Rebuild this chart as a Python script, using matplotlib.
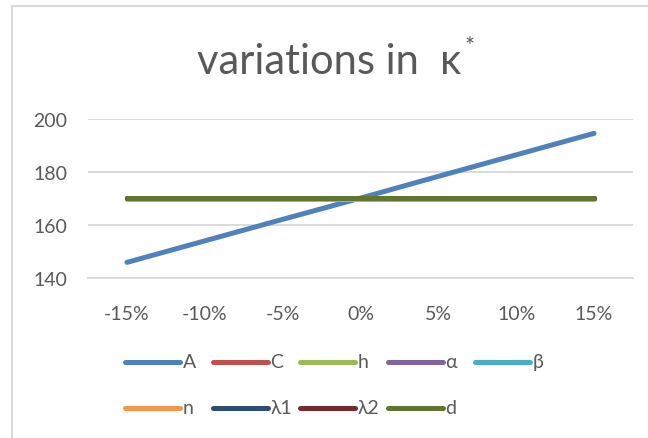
import matplotlib
matplotlib.use('Agg')
import matplotlib.pyplot as plt
from matplotlib.patches import Rectangle
from matplotlib.lines import Line2D

# data
changes = ['-15%', '-10%', '-5%', '0%', '5%', '10%', '15%']
A = [146.0, 154.1, 162.2, 170.2, 178.4, 186.5, 194.6]
C = [170.2] * 7
h = [170.2] * 7
alpha = [170.2] * 7
beta = [170.2] * 7
n = [169.9] * 7
lam1 = [170.2] * 7
lam2 = [170.2] * 7
d = [170.2] * 7

series = [('A', A, '#4F81BD'), ('C', C, '#C0504D'), ('h', h, '#9BBB59'),
          ('α', alpha, '#8064A2'), ('β', beta, '#4BACC6'), ('n', n, '#F79646'),
          ('λ1', lam1, '#2C4D75'), ('λ2', lam2, '#772C2A'), ('d', d, '#5F7530')]

plt.rcParams['font.family'] = ['Lato', 'DejaVu Sans']
txt = '#595959'
W, H = 648, 439

fig = plt.figure(figsize=(6.48, 4.39), dpi=100)
ax = fig.add_axes([88 / W, 1 - 279.3 / H, (633 - 88) / W, (279.3 - 120) / H])

x = range(len(changes))
for name, vals, col in series:
    ax.plot(x, vals, color=col, linewidth=3.6, solid_capstyle='round', label=name)

ax.set_xlim(-0.5, len(changes) - 0.5)
ax.set_ylim(140, 200)
ax.set_yticks([140, 160, 180, 200])
ax.set_xticks(list(x))
ax.set_xticklabels(changes)
ax.grid(axis='y', color='#D9D9D9', linewidth=1.3)
ax.set_axisbelow(True)
for s in ['top', 'right', 'left']:
    ax.spines[s].set_visible(False)
ax.spines['bottom'].set_color('#D9D9D9')
ax.spines['bottom'].set_linewidth(1.3)
ax.tick_params(axis='both', length=0, labelsize=14, colors=txt)
ax.tick_params(axis='y', pad=15)
ax.tick_params(axis='x', pad=19)

fig.text(329 / W, 1 - 62 / H, 'variations in  κ', ha='center', va='center',
         fontsize=30, color=txt)
fig.text(465 / W, 1 - 47 / H, '*', ha='left', va='center', fontsize=17, color=txt)

# legend laid out like Excel: fixed column stride, row-major
for i, (name, vals, col) in enumerate(series):
    r, c = divmod(i, 5)
    x0 = 125 + 87.5 * c
    y0 = 1 - (363 + 46 * r) / H
    fig.add_artist(Line2D([x0 / W, (x0 + 55) / W], [y0, y0], transform=fig.transFigure,
                          color=col, linewidth=3.6, solid_capstyle='round'))
    fig.text((x0 + 58) / W, y0, name, ha='left', va='center', fontsize=14, color=txt)

# chart border (cropped Excel chart area)
fig.add_artist(Rectangle((12 / W, -0.1), 1.2, 1.1 - 7 / H, transform=fig.transFigure,
                         fill=False, edgecolor='#D9D9D9', linewidth=1.5))

fig.savefig('out.png', dpi=100)
